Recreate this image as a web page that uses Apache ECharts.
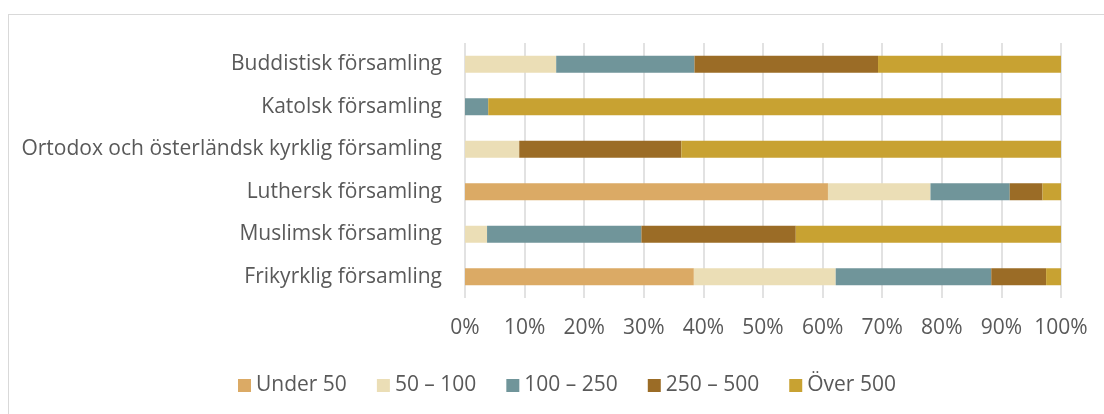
<!DOCTYPE html>
<html>
<head>
<meta charset="utf-8">
<script src="https://cdn.jsdelivr.net/npm/echarts@6/dist/echarts.min.js"></script>
<style>
html,body{margin:0;padding:0;background:#fff;}
#frame{position:absolute;left:8px;top:14px;width:1110px;height:420px;border:1px solid #d9d9d9;box-sizing:border-box;}
#chart{position:absolute;left:0;top:0;width:1104px;height:414px;}
</style>
</head>
<body>
<div id="frame"></div>
<div id="chart"></div>
<script>
// Categories listed bottom-to-top (ECharts category y-axis starts at the bottom)
const categories = [
  "Frikyrklig församling",
  "Muslimsk församling",
  "Luthersk församling",
  "Ortodox och österländsk kyrklig församling",
  "Katolsk församling",
  "Buddistisk församling"
];
const seriesNames = ["Under 50", "50 – 100", "100 – 250", "250 – 500", "Över 500"];
const under50   = [38.4, 0,    60.9, 0,    0,    0];
const s50_100   = [23.8, 3.7,  17.2, 9.1,  0,    15.3];
const s100_250  = [26.1, 25.9, 13.3, 0,    3.9,  23.2];
const s250_500  = [9.2,  25.9, 5.5,  27.2, 0,    30.8];
const over500   = [2.5,  44.5, 3.1,  63.7, 96.1, 30.7];
const xTicks = [0, 10, 20, 30, 40, 50, 60, 70, 80, 90, 100];

const colors = ["#DBAA65", "#EBDEB6", "#70959A", "#9B6C26", "#C8A232"];
const valueArrays = [under50, s50_100, s100_250, s250_500, over500];

const font = "'Open Sans', 'Noto Sans', sans-serif";
const chart = echarts.init(document.getElementById('chart'), null, {renderer: 'canvas'});
chart.setOption({
  animation: false,
  color: colors,
  grid: {left: 465, right: 43, top: 43, bottom: 116, containLabel: false},
  xAxis: {
    type: 'value', min: xTicks[0], max: xTicks[xTicks.length - 1], interval: 10,
    axisLine: {show: false}, axisTick: {show: false},
    splitLine: {show: true, lineStyle: {color: '#d9d9d9', width: 1.5}},
    axisLabel: {formatter: '{value}%', color: '#595959', fontSize: 21, fontFamily: font, margin: 20}
  },
  yAxis: {
    type: 'category', data: categories,
    axisLine: {show: false}, axisTick: {show: false},
    axisLabel: {color: '#595959', fontSize: 21, fontFamily: font, margin: 23}
  },
  legend: {
    top: 370, left: 233,
    itemWidth: 13, itemHeight: 13, itemGap: 30,
    icon: 'rect',
    textStyle: {color: '#595959', fontSize: 21, fontFamily: font},
    data: seriesNames
  },
  series: seriesNames.map((n, i) => ({
    name: n, type: 'bar', stack: 'total', barWidth: 17,
    data: valueArrays[i]
  }))
});
</script>
</body>
</html>
